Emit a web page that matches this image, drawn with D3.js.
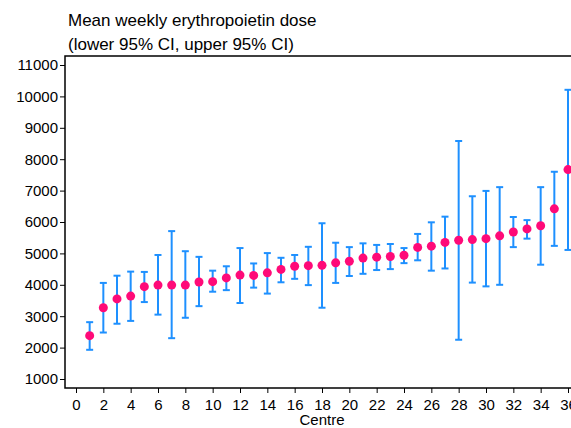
<!DOCTYPE html>
<html lang="en">
<head>
    <meta charset="UTF-8">
    <title>Mean weekly erythropoietin dose</title>
    <style>
        body { margin: 0; background: #fff; }
        text { font-family: "Liberation Sans", Arial, sans-serif; }
    </style>
</head>
<body>
<div id="chart"></div>

<script src="https://d3js.org/d3.v7.min.js"></script>

<script>
    // Centre numbers and the estimated dose values
    var centres = d3.range(1, 37);
    var means = [2380, 3270, 3550, 3640, 3940, 3990, 3990, 3990, 4090, 4100, 4220, 4310,
                 4300, 4380, 4490, 4590, 4610, 4620, 4700, 4750, 4850, 4880, 4900, 4940,
                 5190, 5230, 5350, 5420, 5440, 5470, 5560, 5680, 5780, 5880, 6420, 7670];
    var lower = [1930, 2480, 2760, 2850, 3450, 3050, 2300, 2950, 3320, 3780, 3830, 3420,
                 3910, 3720, 4080, 4190, 3990, 3270, 4060, 4280, 4350, 4470, 4500, 4690,
                 4780, 4450, 4520, 2250, 4070, 3950, 4000, 5200, 5470, 4640, 5240, 5110];
    var upper = [2810, 4060, 4290, 4420, 4410, 4950, 5710, 5070, 4890, 4450, 4590, 5170,
                 4680, 5010, 4860, 4950, 5210, 5960, 5340, 5200, 5320, 5270, 5300, 5170,
                 5620, 5990, 6170, 8580, 6820, 6990, 7110, 6160, 6060, 7110, 7600, 10210];
    var xTicks = d3.range(0, 38, 2);
    var yTicks = d3.range(1000, 11001, 1000);

    var width = 571, height = 428;
    var frame = {left: 65, top: 56, right: 579, bottom: 388};

    var svg = d3.select("#chart").append("svg")
        .attr("width", width)
        .attr("height", height);

    // Scales fitted to the tick positions of the original picture
    var x = d3.scaleLinear().domain([0, 36]).range([76, 568]);
    var y = d3.scaleLinear().domain([1000, 11000]).range([379, 65]);

    // Title
    svg.append("text").attr("x", 68).attr("y", 26)
        .style("font-size", "17px").text("Mean weekly erythropoietin dose");
    svg.append("text").attr("x", 68).attr("y", 50)
        .style("font-size", "17px").text("(lower 95% CI, upper 95% CI)");

    // Plot frame
    svg.append("rect")
        .attr("x", frame.left).attr("y", frame.top)
        .attr("width", frame.right - frame.left)
        .attr("height", frame.bottom - frame.top)
        .attr("fill", "none").attr("stroke", "#000").attr("stroke-width", 1.5);

    // Y axis
    var yAxis = svg.append("g")
        .attr("transform", "translate(" + frame.left + ",0)")
        .call(d3.axisLeft(y).tickValues(yTicks).tickFormat(d3.format("d")).tickSize(5).tickPadding(2));
    yAxis.select(".domain").remove();
    yAxis.selectAll("text").style("font-size", "15px").attr("fill", "#000")
        .style("font-family", "Liberation Sans, Arial, sans-serif");

    // X axis
    var xAxis = svg.append("g")
        .attr("transform", "translate(0," + frame.bottom + ")")
        .call(d3.axisBottom(x).tickValues(xTicks).tickSize(5).tickPadding(6));
    xAxis.select(".domain").remove();
    xAxis.selectAll("text").style("font-size", "15px").attr("fill", "#000")
        .style("font-family", "Liberation Sans, Arial, sans-serif");

    svg.append("text").attr("x", 322).attr("y", 425)
        .attr("text-anchor", "middle").style("font-size", "15px").text("Centre");

    // Error bars
    var bars = svg.append("g").attr("stroke", "#1E90FF").attr("stroke-width", 2);
    bars.selectAll("line.ci")
        .data(centres)
        .enter().append("line")
        .attr("class", "ci")
        .attr("x1", d => x(d)).attr("x2", d => x(d))
        .attr("y1", (d, i) => y(lower[i])).attr("y2", (d, i) => y(upper[i]));
    bars.selectAll("line.cap-hi")
        .data(centres)
        .enter().append("line")
        .attr("class", "cap-hi")
        .attr("x1", d => x(d) - 3.5).attr("x2", d => x(d) + 3.5)
        .attr("y1", (d, i) => y(upper[i])).attr("y2", (d, i) => y(upper[i]));
    bars.selectAll("line.cap-lo")
        .data(centres)
        .enter().append("line")
        .attr("class", "cap-lo")
        .attr("x1", d => x(d) - 3.5).attr("x2", d => x(d) + 3.5)
        .attr("y1", (d, i) => y(lower[i])).attr("y2", (d, i) => y(lower[i]));

    // Means
    svg.append("g").selectAll("circle")
        .data(centres)
        .enter().append("circle")
        .attr("cx", d => x(d))
        .attr("cy", (d, i) => y(means[i]))
        .attr("r", 4.5)
        .attr("fill", "#FF0A78");
</script>

</body>
</html>
